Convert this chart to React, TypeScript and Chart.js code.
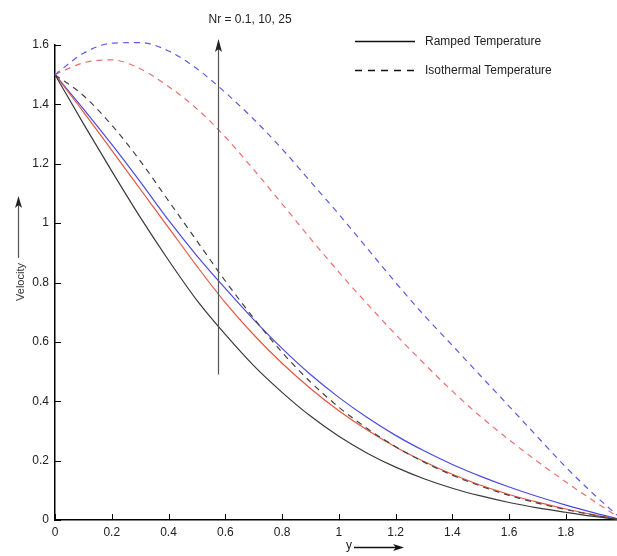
import React, { useEffect, useRef } from "react";
import { Chart, registerables } from "chart.js";

Chart.register(...registerables);

const X_VALUES = [0, 0.1, 0.2, 0.3, 0.4, 0.5, 0.6, 0.7, 0.8, 0.9, 1.0, 1.1, 1.2, 1.3, 1.4, 1.5, 1.6, 1.7, 1.8, 1.9, 2.0];

// Ramped temperature (solid)
const RAMPED_NR_01 = [1.5, 1.335, 1.175, 1.02, 0.875, 0.74, 0.625, 0.52, 0.43, 0.35, 0.282, 0.225, 0.178, 0.139, 0.107, 0.081, 0.059, 0.041, 0.026, 0.012, 0];
const RAMPED_NR_10 = [1.5, 1.375, 1.245, 1.115, 0.985, 0.855, 0.732, 0.624, 0.528, 0.443, 0.368, 0.303, 0.246, 0.197, 0.154, 0.117, 0.086, 0.06, 0.037, 0.017, 0];
const RAMPED_NR_25 = [1.5, 1.385, 1.265, 1.14, 1.01, 0.89, 0.78, 0.675, 0.578, 0.49, 0.413, 0.345, 0.285, 0.233, 0.187, 0.147, 0.111, 0.079, 0.05, 0.024, 0];

// Isothermal temperature (dashed)
const ISO_NR_01 = [1.5, 1.43, 1.33, 1.21, 1.075, 0.94, 0.805, 0.68, 0.565, 0.465, 0.38, 0.308, 0.247, 0.195, 0.151, 0.114, 0.083, 0.057, 0.035, 0.016, 0];
const ISO_NR_10 = [1.5, 1.54, 1.55, 1.52, 1.46, 1.385, 1.29, 1.18, 1.065, 0.948, 0.835, 0.728, 0.625, 0.527, 0.434, 0.348, 0.27, 0.197, 0.128, 0.063, 0];
const ISO_NR_25 = [1.5, 1.572, 1.606, 1.608, 1.58, 1.52, 1.44, 1.35, 1.25, 1.14, 1.03, 0.915, 0.8, 0.69, 0.588, 0.485, 0.383, 0.28, 0.178, 0.085, 0];

const X_TICKS = [0, 0.2, 0.4, 0.6, 0.8, 1, 1.2, 1.4, 1.6, 1.8];
const Y_TICKS = [0, 0.2, 0.4, 0.6, 0.8, 1, 1.2, 1.4, 1.6];

const LEGEND_LABELS = ["Ramped Temperature", "Isothermal Temperature"];
const ANNOTATION_TEXT = "Nr = 0.1, 10, 25";
const ANNOTATION_X = 0.574;
const ANNOTATION_Y_FROM = 0.49;
const ANNOTATION_Y_TO = 1.62;

const FONT = "'Liberation Sans', Arial, sans-serif";

const toPoints = (ys: number[]) => X_VALUES.map((x, i) => ({ x, y: ys[i] }));

function arrowHead(ctx: CanvasRenderingContext2D, x: number, y: number, dir: "up" | "right", len = 11, half = 3) {
  ctx.beginPath();
  if (dir === "up") {
    ctx.moveTo(x, y);
    ctx.lineTo(x - half, y + len);
    ctx.lineTo(x, y + len - 3);
    ctx.lineTo(x + half, y + len);
  } else {
    ctx.moveTo(x, y);
    ctx.lineTo(x - len, y - half);
    ctx.lineTo(x - len + 3, y);
    ctx.lineTo(x - len, y + half);
  }
  ctx.closePath();
  ctx.fill();
}

const decorPlugin = {
  id: "decor",
  afterDraw(chart: any) {
    const ctx: CanvasRenderingContext2D = chart.ctx;
    const xs = chart.scales.x;
    const ys = chart.scales.y;
    ctx.save();
    // inward tick marks
    ctx.strokeStyle = "#000";
    ctx.lineWidth = 1;
    xs.ticks.forEach((t: any) => {
      const px = Math.round(xs.getPixelForValue(t.value)) + 0.5;
      ctx.beginPath();
      ctx.moveTo(px, ys.bottom);
      ctx.lineTo(px, ys.bottom - 6);
      ctx.stroke();
    });
    ys.ticks.forEach((t: any) => {
      const py = Math.round(ys.getPixelForValue(t.value)) + 0.5;
      ctx.beginPath();
      ctx.moveTo(xs.left, py);
      ctx.lineTo(xs.left + 6, py);
      ctx.stroke();
    });

    // Nr annotation arrow
    const ax = Math.round(xs.getPixelForValue(ANNOTATION_X)) + 0.5;
    const ay0 = ys.getPixelForValue(ANNOTATION_Y_FROM);
    const ay1 = ys.getPixelForValue(ANNOTATION_Y_TO);
    ctx.strokeStyle = "#555";
    ctx.fillStyle = "#222";
    ctx.lineWidth = 1.2;
    ctx.beginPath();
    ctx.moveTo(ax, ay0);
    ctx.lineTo(ax, ay1 + 6);
    ctx.stroke();
    arrowHead(ctx, ax, ay1, "up", 13, 3.5);

    ctx.font = `12px ${FONT}`;
    ctx.fillStyle = "#222";
    ctx.textAlign = "left";
    ctx.textBaseline = "middle";
    ctx.fillText(ANNOTATION_TEXT, ax - 10, 20);

    // legend
    const lx0 = 355, lx1 = 415, tx = 425;
    ctx.strokeStyle = "#111";
    ctx.lineWidth = 1.3;
    ctx.beginPath();
    ctx.moveTo(lx0, 41.5);
    ctx.lineTo(lx1, 41.5);
    ctx.stroke();
    ctx.setLineDash([7, 6]);
    ctx.beginPath();
    ctx.moveTo(lx0, 70.5);
    ctx.lineTo(lx1, 70.5);
    ctx.stroke();
    ctx.setLineDash([]);
    ctx.fillStyle = "#222";
    ctx.fillText(LEGEND_LABELS[0], tx, 42);
    ctx.fillText(LEGEND_LABELS[1], tx, 71);

    // y-axis title with arrow
    ctx.save();
    ctx.translate(21, 282);
    ctx.rotate(-Math.PI / 2);
    ctx.textAlign = "center";
    ctx.font = `11px ${FONT}`;
    ctx.fillStyle = "#333";
    ctx.fillText("Velocity", 0, 0);
    ctx.restore();
    ctx.strokeStyle = "#555";
    ctx.lineWidth = 1.2;
    ctx.beginPath();
    ctx.moveTo(18.5, 258);
    ctx.lineTo(18.5, 205);
    ctx.stroke();
    ctx.fillStyle = "#222";
    arrowHead(ctx, 18.5, 196, "up", 12, 3.5);

    // x-axis title with arrow
    ctx.font = `12px ${FONT}`;
    ctx.textAlign = "center";
    ctx.fillStyle = "#222";
    ctx.fillText("y", 349, 546);
    ctx.strokeStyle = "#111";
    ctx.lineWidth = 1.3;
    ctx.beginPath();
    ctx.moveTo(354, 547.5);
    ctx.lineTo(396, 547.5);
    ctx.stroke();
    ctx.fillStyle = "#111";
    arrowHead(ctx, 404, 547.5, "right", 11, 3.5);

    ctx.restore();
  },
};

export default function App() {
  const canvasRef = useRef<HTMLCanvasElement | null>(null);

  useEffect(() => {
    if (!canvasRef.current) return;
    const mk = (data: number[], color: string, dashed: boolean) => ({
      data: toPoints(data),
      borderColor: color,
      borderWidth: 1.2,
      borderDash: dashed ? [6, 5] : [],
      pointRadius: 0,
      showLine: true,
      fill: false,
      cubicInterpolationMode: "monotone" as const,
      clip: false as any,
    });
    const chart = new Chart(canvasRef.current, {
      type: "scatter",
      data: {
        datasets: [
          mk(ISO_NR_25, "#5b5be6", true),
          mk(ISO_NR_10, "#ee6f6f", true),
          mk(ISO_NR_01, "#444444", true),
          mk(RAMPED_NR_01, "#3a3a3a", false),
          mk(RAMPED_NR_10, "#e8553f", false),
          mk(RAMPED_NR_25, "#4a4ae0", false),
        ],
      },
      options: {
        animation: false,
        responsive: false,
        devicePixelRatio: 1,
        layout: { padding: { top: 45, left: 0, right: 0, bottom: 0 } },
        plugins: { legend: { display: false }, tooltip: { enabled: false } },
        scales: {
          x: {
            type: "linear",
            min: 0,
            max: 1.98,
            afterBuildTicks: (s: any) => {
              s.ticks = X_TICKS.map((v) => ({ value: v }));
            },
            afterFit: (s: any) => {
              s.height = 36;
            },
            grid: { display: true, drawOnChartArea: false, drawTicks: false },
            border: { display: true, color: "#000", width: 1.5 },
            ticks: {
              padding: 5,
              color: "#222",
              font: { family: FONT, size: 12 },
              maxRotation: 0,
              autoSkip: false,
              callback: (v: any) => String(Math.round(Number(v) * 10) / 10),
            },
          },
          y: {
            type: "linear",
            min: 0,
            max: 1.6,
            afterBuildTicks: (s: any) => {
              s.ticks = Y_TICKS.map((v) => ({ value: v }));
            },
            afterFit: (s: any) => {
              s.width = 55;
            },
            grid: { display: true, drawOnChartArea: false, drawTicks: false },
            border: { display: true, color: "#000", width: 1.5 },
            ticks: {
              padding: 6,
              color: "#222",
              font: { family: FONT, size: 12 },
              autoSkip: false,
              callback: (v: any) => String(Math.round(Number(v) * 10) / 10),
            },
          },
        },
      },
      plugins: [decorPlugin],
    });
    return () => chart.destroy();
  }, []);

  return (
    <div style={{ position: "absolute", left: 0, top: 0, width: 617, height: 556, background: "#fff" }}>
      <canvas ref={canvasRef} width={617} height={556} style={{ display: "block" }} />
    </div>
  );
}
